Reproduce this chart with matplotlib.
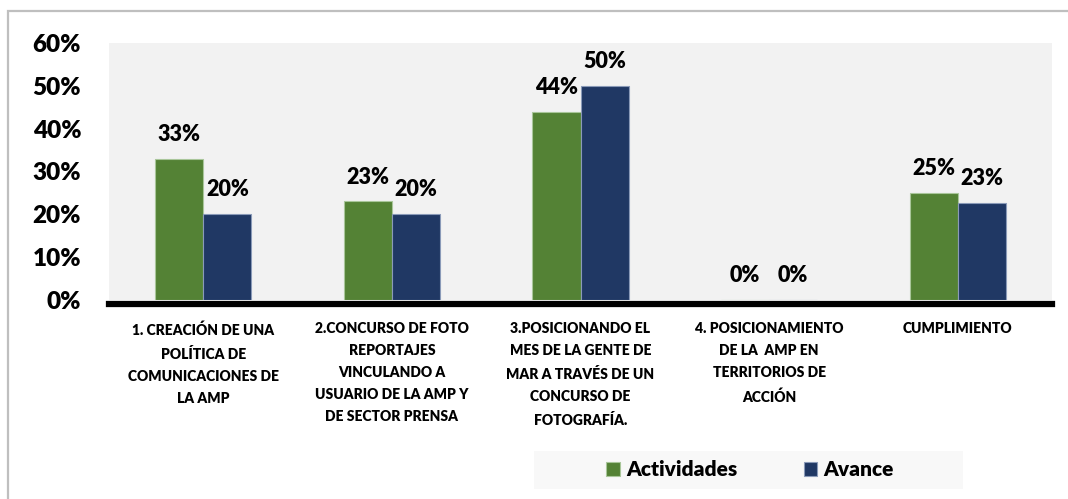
import matplotlib
matplotlib.use("Agg")
import matplotlib.pyplot as plt
from matplotlib.patches import Rectangle
import numpy as np

categories = [
    "1. CREACIÓN DE UNA\nPOLÍTICA DE\nCOMUNICACIONES DE\nLA AMP",
    "2.CONCURSO DE FOTO\nREPORTAJES\nVINCULANDO A\nUSUARIO DE LA AMP Y\nDE SECTOR PRENSA",
    "3.POSICIONANDO EL\nMES DE LA GENTE DE\nMAR A TRAVÉS DE UN\nCONCURSO DE\nFOTOGRAFÍA.",
    "4. POSICIONAMIENTO\nDE LA  AMP EN\nTERRITORIOS DE\nACCIÓN",
    "CUMPLIMIENTO",
]
actividades = [0.33, 0.23, 0.44, 0.0, 0.25]
avance = [0.20, 0.20, 0.50, 0.0, 0.226]
series_names = ["Actividades", "Avance"]
yticks = [0, 0.1, 0.2, 0.3, 0.4, 0.5, 0.6]
ytick_labels = ["0%", "10%", "20%", "30%", "40%", "50%", "60%"]

plt.rcParams['font.family'] = ['Lato', 'DejaVu Sans']
W_TXT = 'heavy'

W, H = 1068, 499
fig = plt.figure(figsize=(W / 100, H / 100), dpi=100)
fig.patch.set_facecolor('white')

fig.patches.append(Rectangle((8 / W, -0.1), 1.2, 1 - 11 / H + 0.1, transform=fig.transFigure,
                             fill=False, edgecolor='#BFBFBF', linewidth=1.6, zorder=0))

ax = fig.add_axes([109 / W, 1 - 300 / H, (1052 - 109) / W, (300 - 43) / H])
ax.set_facecolor('#F2F2F2')

# spines first (set_position resets ticks)
for s in ['left', 'right', 'top']:
    ax.spines[s].set_visible(False)
ax.spines['bottom'].set_color('black')
ax.spines['bottom'].set_linewidth(4.5)
ax.spines['bottom'].set_position(('outward', 3))
ax.spines['bottom'].set_zorder(3)

green = '#548235'
navy = '#203864'
x = np.arange(len(categories))
bw = 0.255
b1 = ax.bar(x - bw / 2, actividades, bw, color=green, edgecolor='#A9C69A', linewidth=0.8,
            label=series_names[0], zorder=2)
b2 = ax.bar(x + bw / 2, avance, bw, color=navy, edgecolor='#8A9AB8', linewidth=0.8,
            label=series_names[1], zorder=2)

for bars, vals in ((b1, actividades), (b2, avance)):
    for rect, v in zip(bars, vals):
        ax.annotate(f"{round(v * 100):d}%", (rect.get_x() + rect.get_width() / 2, v),
                    xytext=(0, 10), textcoords='offset points', ha='center', va='bottom',
                    fontsize=15.5, fontweight=W_TXT, color='black')

ax.set_xlim(-0.5, len(categories) - 0.5)
ax.set_ylim(0, 0.6)
ax.tick_params(axis='both', length=0)
ax.tick_params(axis='y', pad=20)
ax.tick_params(axis='x', pad=13)
ax.set_yticks(yticks)
ax.set_yticklabels(ytick_labels)
ax.set_xticks(x)
ax.set_xticklabels(categories)
for lab in ax.get_yticklabels():
    lab.set_fontsize(17.5)
    lab.set_fontweight(W_TXT)
for lab in ax.get_xticklabels():
    lab.set_fontsize(10)
    lab.set_fontweight('heavy')
    lab.set_linespacing(1.82)
    lab.set_verticalalignment('top')

fig.patches.append(Rectangle((534 / W, 1 - 489 / H), (963 - 534) / W, 38 / H,
                             transform=fig.transFigure, facecolor='#F8F8F8', edgecolor='none', zorder=0))
leg = fig.legend(handles=[b1, b2], labels=series_names, loc='center', bbox_to_anchor=(750 / W, 1 - 470 / H),
                 ncol=2, frameon=False, prop={'size': 15, 'weight': W_TXT},
                 handlelength=0.65, handleheight=0.65, handletextpad=0.3, columnspacing=3.2)

fig.savefig('out.png', dpi=100)
